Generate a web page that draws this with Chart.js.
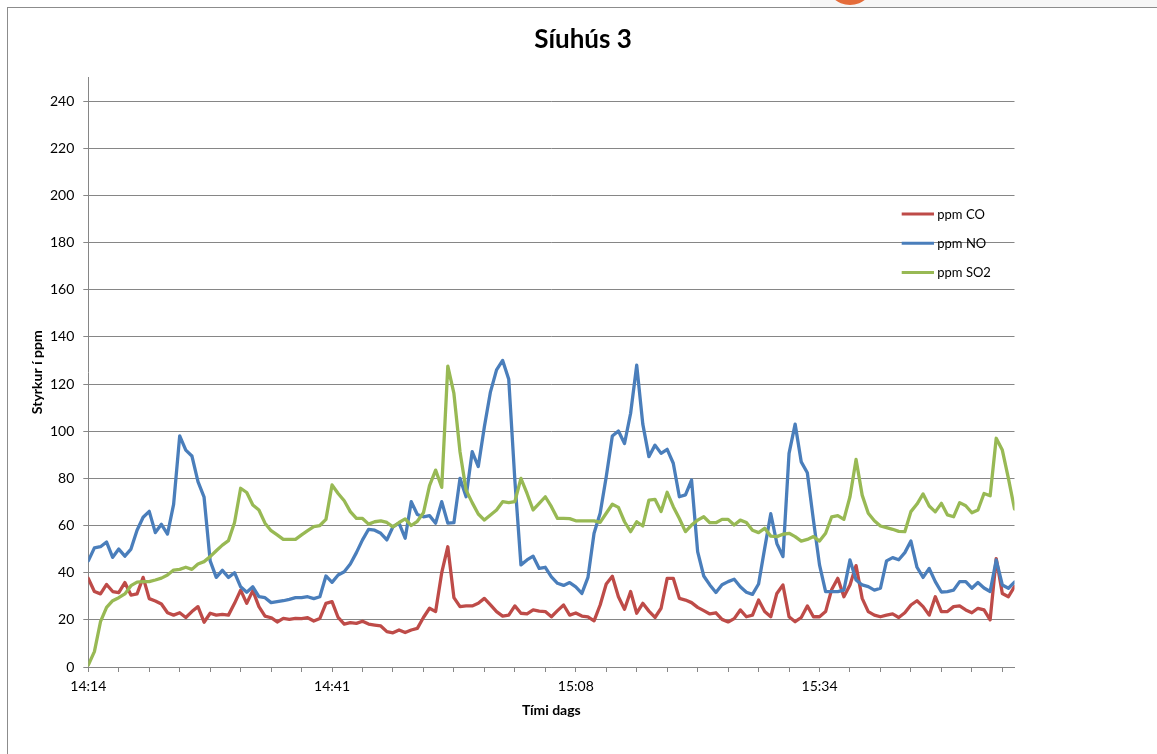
<!DOCTYPE html>
<html>
<head>
<meta charset="utf-8">
<title>Síuhús 3</title>
<script src="https://cdn.jsdelivr.net/npm/chart.js@4.4.1/dist/chart.umd.min.js"></script>
<style>
  html, body { margin: 0; padding: 0; background: #fff; overflow: hidden; }
  #topbar { position: absolute; left: 810px; top: 0; width: 347px; height: 7px; background: #f6f6f6; }
  #blob { position: absolute; left: 826px; top: -43px; width: 48px; height: 48px; border-radius: 50%; background: #e46c3a; }
  #frame { position: absolute; left: 7px; top: 7px; width: 1160px; height: 760px;
           border-left: 1px solid #8c8c8c; border-top: 1px solid #8c8c8c; }
  #box { position: relative; width: 1150px; height: 746px; }
</style>
</head>
<body>
<div id="topbar"></div>
<div id="blob"></div>
<div id="frame">
  <div id="box"><canvas id="chart"></canvas></div>
</div>

<script>
// ========== data ==========
// one value for every second reading, first reading at 14:14
const sampleStep = 2;
const labelEvery = 80;   // readings between labelled ticks
const tickLabels = ["14:14", "14:41", "15:08", "15:34"];
const seriesNames = ["ppm CO", "ppm NO", "ppm SO2"];
const chartTitle = "Síuhús 3";

const coValues = [
  37.6, 32, 31, 35, 32, 31.5, 35.8, 30.5, 31, 38,
  29, 28, 26.7, 23, 22, 23, 21, 23.5, 25.6, 19,
  22.8, 22, 22.3, 22, 27, 32.6, 27, 32.4, 25.6, 21.6,
  20.9, 19.1, 20.6, 20.2, 20.6, 20.5, 20.9, 19.5, 20.6, 27,
  27.7, 21, 18.2, 18.8, 18.5, 19.4, 18.2, 17.8, 17.4, 15,
  14.5, 15.7, 14.6, 15.7, 16.4, 21, 24.9, 23.5, 40, 51,
  29.4, 25.6, 25.9, 25.9, 27, 29.1, 26.3, 23.5, 21.6, 22,
  25.9, 22.8, 22.5, 24.2, 23.7, 23.5, 21.3, 23.9, 26.3, 22,
  22.9, 21.6, 21.3, 19.6, 26.3, 35.2, 38.5, 29.8, 24.5, 32,
  22.8, 27, 23.7, 21, 24.9, 37.6, 37.6, 29.1, 28.4, 27.3,
  25.3, 23.9, 22.5, 23, 20.2, 19.1, 20.5, 24.2, 21.3, 22,
  28.4, 23.5, 21.3, 31.2, 34.8, 21.3, 19.2, 21, 25.9, 21.3,
  21.3, 23.5, 32.9, 37.6, 29.8, 34.8, 43, 29.1, 23.5, 22,
  21.3, 22, 22.5, 21, 23, 26.3, 28.1, 25.6, 22, 29.8,
  23.5, 23.5, 25.6, 25.9, 24.2, 23, 24.9, 24.2, 20, 46,
  31.2, 29.8, 34.1
];

const noValues = [
  45, 50.5, 51, 53, 46.5, 50, 47, 50, 58, 63.5,
  66, 57, 60.5, 56.4, 69, 98, 92, 89.5, 78.6, 72,
  45, 38, 41, 38, 40, 34, 31.7, 34, 29.8, 29.4,
  27.3, 27.7, 28.1, 28.7, 29.4, 29.4, 29.8, 29, 29.8, 38.6,
  35.9, 39, 40.4, 43.7, 48.5, 53.9, 58.4, 58, 56.7, 53.9,
  59.5, 61, 54.6, 70.1, 64.7, 63.7, 64.2, 61, 70.1, 61,
  61.2, 80, 72.2, 91.3, 85, 101.9, 116.7, 126, 130, 122,
  79.3, 43.3, 45.4, 47, 41.8, 42.3, 38.2, 35.5, 34.6, 35.8,
  34, 31.2, 38, 56.7, 65.2, 80.7, 98, 100.1, 94.8, 107.6,
  128, 103, 89.2, 94.1, 90.6, 92.3, 86.4, 72.2, 73, 79.3,
  48.9, 38.6, 34.8, 31.6, 34.9, 36.2, 37.2, 34, 31.7, 30.8,
  35.2, 50.3, 65, 52.4, 46.8, 90.6, 103, 87, 82.4, 62.3,
  43.3, 32, 32, 32, 32.6, 45.4, 36.9, 34.8, 34.1, 32.6,
  33.4, 45, 46.4, 45.5, 48.5, 53.4, 42.3, 38, 41.8, 36.2,
  31.8, 32, 32.6, 36.2, 36.2, 33.4, 35.8, 33.5, 32, 45.4,
  34.8, 33.4, 36
];

const so2Values = [
  0.8, 6.5, 19.2, 25.3, 28.1, 29.4, 31, 34.5, 36, 36.2,
  36.2, 36.9, 37.7, 39, 41.1, 41.4, 42.3, 41.4, 43.7, 44.7,
  46.8, 49.3, 51.7, 53.6, 61.3, 75.8, 74, 68.7, 66.6, 61,
  57.8, 56, 54.1, 54.1, 54.1, 56, 57.8, 59.5, 60, 62.6,
  77.2, 73.6, 70.5, 65.9, 63, 63, 60.6, 61.6, 62, 61.3,
  59.4, 61.3, 62.8, 60, 61.8, 65.4, 76.9, 83.5, 76.2, 127.6,
  116, 91.3, 75, 69.7, 64.9, 62.3, 64.5, 66.6, 70.1, 69.7,
  70.1, 80, 73.6, 66.6, 69.4, 72.2, 68, 63, 63, 62.9,
  62, 62, 62, 62, 61.3, 65.2, 69, 67.7, 61.6, 57.4,
  61.6, 59.8, 70.8, 71.1, 65.9, 74.1, 68, 63, 57.4, 60.2,
  62.3, 63.7, 61.2, 61.2, 62.6, 62.6, 60.2, 62.3, 61.3, 58,
  57, 58.8, 55.5, 55.3, 56.3, 56.7, 55.3, 53.4, 54.1, 55.3,
  53.4, 56.7, 63.7, 64.2, 62.6, 72.2, 88, 72.9, 65.2, 62,
  59.8, 59.1, 58.4, 57.5, 57.4, 65.9, 69.1, 73.4, 68.3, 65.8,
  69.4, 64.5, 63.7, 69.7, 68.4, 65.4, 66.6, 73.6, 72.6, 97,
  92, 80, 67
];

// ========== helpers ==========
const FONT = "Lato, 'Open Sans', sans-serif";
const AXIS_GREY = "#868686";

function toPoints(values) {
  return values.map((v, i) => ({ x: i * sampleStep, y: v }));
}

function lineSet(label, values, color, order) {
  return {
    label: label,
    data: toPoints(values),
    borderColor: color,
    backgroundColor: color,
    borderWidth: 3.3,
    pointRadius: 0,
    tension: 0,
    borderJoinStyle: "round",
    borderCapStyle: "round",
    order: order
  };
}

// title centred on the whole frame + legend inside the plot, on the right
const chartText = {
  id: "chartText",
  afterDraw(chart) {
    const { ctx, chartArea } = chart;
    ctx.save();
    ctx.fillStyle = "#000";
    ctx.textAlign = "center";
    ctx.textBaseline = "middle";
    ctx.font = "bold 26px " + FONT;
    ctx.fillText(chartTitle, chart.width / 2, 32);

    ctx.textAlign = "left";
    ctx.font = "13px " + FONT;
    chart.data.datasets.forEach((ds, i) => {
      const y = chartArea.top + 136.5 + i * 29.2;
      ctx.strokeStyle = ds.borderColor;
      ctx.lineWidth = 3;
      ctx.beginPath();
      ctx.moveTo(chartArea.right - 112.8, y);
      ctx.lineTo(chartArea.right - 80.5, y);
      ctx.stroke();
      ctx.fillText(ds.label, chartArea.right - 77.2, y + 0.5);
    });
    ctx.restore();
  }
};

// ========== chart ==========
const lastX = (coValues.length - 1) * sampleStep;

new Chart(document.getElementById("chart"), {
  type: "line",
  data: {
    datasets: [
      lineSet(seriesNames[0], coValues, "#BE4B48", 3),
      lineSet(seriesNames[1], noValues, "#4A7EBB", 2),
      lineSet(seriesNames[2], so2Values, "#98B954", 1)
    ]
  },
  options: {
    responsive: true,
    maintainAspectRatio: false,
    animation: false,
    layout: { padding: { top: 69.5, left: 0, right: 143.5, bottom: 0 } },
    plugins: {
      legend: { display: false },
      tooltip: { enabled: false },
      title: { display: false }
    },
    scales: {
      x: {
        type: "linear",
        min: 0,
        max: lastX,
        afterFit: s => { s.height = 87; },
        grid: { drawOnChartArea: false, color: AXIS_GREY, tickLength: 5 },
        border: { color: AXIS_GREY },
        ticks: {
          stepSize: 10,
          autoSkip: false,
          includeBounds: false,
          maxRotation: 0,
          padding: 6,
          color: "#000",
          font: { family: FONT, size: 14 },
          callback: v => (v % labelEvery === 0 ? tickLabels[v / labelEvery] : "")
        },
        title: {
          display: true,
          text: "Tími dags",
          color: "#000",
          font: { family: FONT, size: 14, weight: "bold", lineHeight: 1.2 },
          padding: { top: 0, bottom: 35 }
        }
      },
      y: {
        min: 0,
        max: 250,
        afterFit: s => { s.width = 80.3; },
        grid: { color: AXIS_GREY, tickLength: 5 },
        border: { color: AXIS_GREY },
        ticks: {
          stepSize: 20,
          includeBounds: false,
          padding: 9,
          color: "#000",
          font: { family: FONT, size: 14 }
        },
        title: {
          display: true,
          text: "Styrkur í ppm",
          color: "#000",
          font: { family: FONT, size: 14, weight: "bold", lineHeight: 1.2 },
          padding: { top: 21, bottom: 0 }
        }
      }
    }
  },
  plugins: [chartText]
});
</script>
</body>
</html>
